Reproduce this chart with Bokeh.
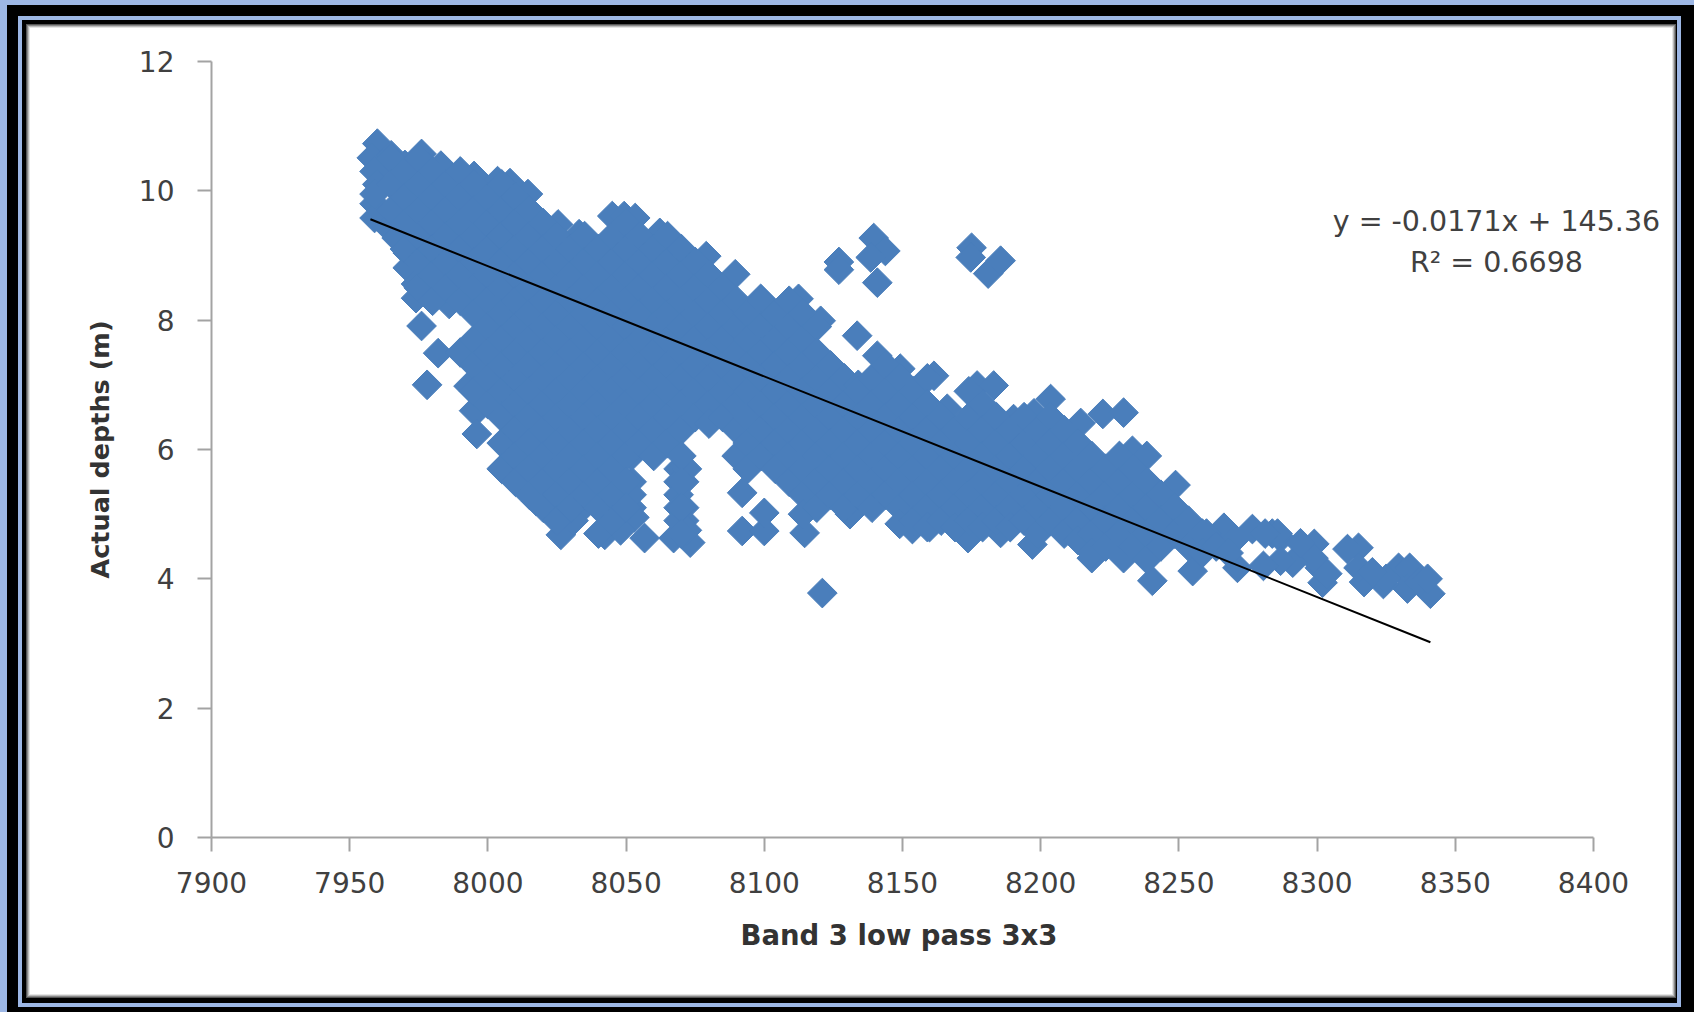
from bokeh.plotting import figure
from bokeh.embed import file_html
from bokeh.resources import INLINE
from bokeh.models import Range1d, FixedTicker, Label, Title

# Values
x_ticks = [7900, 7950, 8000, 8050, 8100, 8150, 8200, 8250, 8300, 8350, 8400]
y_ticks = [0, 2, 4, 6, 8, 10, 12]
x_title = "Band 3 low pass 3x3"
y_title = "Actual depths (m)"
equation = "y = -0.0171x + 145.36"
r_squared = "R² = 0.6698"

trend_x = [7957.5, 8341]
trend_y = [9.56, 3.02]

# Points along the outline of the cloud and the separate points
edge_x = [7960, 7958, 7959, 7959, 7964, 7967, 7971, 7971, 7974, 7974, 7976, 7982, 7978, 7993,
          7995, 7996, 7996, 8005.5, 8017.5, 8026.4, 8042.3, 8056.7, 8067.2, 8073.2, 8092, 8100, 8114.6, 8121, 8092, 8100,
          8131, 7976, 7983, 7995, 8003.5, 8008, 8014.5, 8025.4, 8033, 8045, 8049.3, 8053.3, 8062.2, 8079, 8089.5,
          8112.4, 8098.7, 8120.4, 8133.6, 8140.9, 8149.2, 8161.4, 8166.2, 8177, 8183, 8190.2, 8197.6, 8203.6,
          8214.5, 8222.5, 8230, 8233.2, 8238.4, 8248.8, 8266.3, 8276.6, 8283.8, 8286.8, 8153.6, 8159.8, 8173.7, 8185.5,
          8197, 8218.5, 8230, 8240.4, 8255, 8271.2, 8341, 8329.5, 8333.5, 8332.7, 8324, 8317, 8315, 8311,
          8315, 8302, 8299, 8301, 8303.7, 8298.7, 8285.7, 8281.2, 8291.2, 8286.8, 8280.6, 8127, 8127, 8139.6,
          8143.8, 8140.9, 8138.5, 8175, 8174.7, 8181, 8185.5, 8337, 8340, 8325, 8320, 8294, 8270, 8260, 8052,
          8052, 8052, 8071, 8071, 8071, 8049.5, 8089, 8032, 8037, 8022,
          7965, 7970, 7959, 7960, 7959, 7986, 8069, 8069, 8069, 8069, 8069, 8072, 8072, 8053, 8052, 8031, 8048]
edge_y = [10.73, 10.51, 9.8, 9.58, 9.43, 9.27, 9.04, 8.81, 8.56, 8.34, 7.91, 7.49, 7.0, 6.98,
          6.6, 6.6, 6.24, 5.72, 5.2, 4.68, 4.68, 4.63, 4.63, 4.56, 4.74, 4.74, 4.71, 3.78, 5.33, 5.02,
          5.0, 10.57, 10.39, 10.23, 10.15, 10.12, 9.95, 9.48, 9.33, 9.61, 9.61, 9.58, 9.35, 8.99, 8.71,
          8.33, 8.33, 7.99, 7.76, 7.45, 7.25, 7.14, 6.63, 6.99, 6.99, 6.47, 6.56, 6.78,
          6.41, 6.55, 6.57, 5.98, 5.9, 5.45, 4.79, 4.77, 4.7, 4.63, 4.77, 4.8, 4.63, 4.71,
          4.53, 4.32, 4.32, 3.97, 4.12, 4.17, 3.77, 4.17, 4.17, 3.85, 3.92, 3.95, 4.48, 4.46,
          4.17, 3.94, 4.54, 4.17, 4.08, 4.32, 4.7, 4.7, 4.25, 4.28, 4.2, 8.9, 8.78, 9.27,
          9.07, 8.58, 8.97, 9.12, 8.97, 8.72, 8.92, 3.95, 4.0, 4.0, 4.1, 4.55, 4.6, 4.7, 5.5,
          5.9, 5.1, 5.5, 5.1, 4.9, 9.2, 8.3, 5.0, 5.3, 5.3,
          10.55, 10.4, 10.3, 10.1, 9.95, 8.25, 5.7, 5.5, 5.3, 5.1, 4.9, 5.7, 4.75, 4.95, 5.3, 4.9, 4.75]

# Points that fill the inside of the cloud, by column
fill_x = [7965, 7970, 7975, 7980, 7985, 7990, 7995, 8000, 8005, 8010, 8015, 8020, 8025, 8030, 8035, 8040,
          8045, 8050, 8055, 8060, 8065, 8070, 8075, 8080, 8085, 8090, 8094, 8099, 8104, 8109, 8114, 8119,
          8124, 8129, 8134, 8139, 8144, 8149, 8154, 8159, 8164, 8169, 8174, 8179, 8184, 8189, 8194, 8199,
          8203.5, 8208.5, 8213.5, 8218.5, 8223.5, 8228.5, 8233.5, 8238.5, 8243.5, 8248.5, 8253.5, 8258.5, 8263.5, 8268]
fill_y = [
    [10.5, 10.1, 9.7],
    [10.3, 9.9, 9.5, 9.1],
    [10.5, 10.1, 9.7, 9.3, 8.9, 8.5],
    [10.3, 9.9, 9.5, 9.1, 8.7, 8.3],
    [10.1, 9.7, 9.3, 8.9, 8.5],
    [10.3, 9.9, 9.5, 9.1, 8.7, 8.3, 7.5],
    [10.1, 9.7, 9.3, 8.9, 8.5, 8.1, 7.7, 7.3, 6.9],
    [9.9, 9.5, 9.1, 8.7, 8.3, 7.9, 7.5, 7.1, 6.7],
    [10.1, 9.7, 9.3, 8.9, 8.5, 8.1, 7.7, 7.3, 6.9, 6.5, 6.1, 5.7],
    [9.9, 9.5, 9.1, 8.7, 8.3, 7.9, 7.5, 7.1, 6.7, 6.3, 5.9, 5.5],
    [9.7, 9.3, 8.9, 8.5, 8.1, 7.7, 7.3, 6.9, 6.5, 6.1, 5.7, 5.3],
    [9.5, 9.1, 8.7, 8.3, 7.9, 7.5, 7.1, 6.7, 6.3, 5.9, 5.5, 5.1],
    [9.3, 8.9, 8.5, 8.1, 7.7, 7.3, 6.9, 6.5, 6.1, 5.7, 5.3, 4.9],
    [9.1, 8.7, 8.3, 7.9, 7.5, 7.1, 6.7, 6.3, 5.9, 5.5, 5.1],
    [9.3, 8.9, 8.5, 8.1, 7.7, 7.3, 6.9, 6.5, 6.1, 5.7, 5.3],
    [9.1, 8.7, 8.3, 7.9, 7.5, 7.1, 6.7, 6.3, 5.9, 5.5, 5.1, 4.7],
    [9.3, 8.9, 8.5, 8.1, 7.7, 7.3, 6.9, 6.5, 6.1, 5.7, 5.3, 4.9],
    [9.5, 9.1, 8.7, 8.3, 7.9, 7.5, 7.1, 6.7, 6.3, 5.9, 5.5, 5.1],
    [9.3, 8.9, 8.5, 8.1, 7.7, 7.3, 6.9, 6.5, 6.1],
    [9.1, 8.7, 8.3, 7.9, 7.5, 7.1, 6.7, 6.3, 5.9],
    [9.3, 8.9, 8.5, 8.1, 7.7, 7.3, 6.9, 6.5, 6.1],
    [9.1, 8.7, 8.3, 7.9, 7.5, 7.1, 6.7, 6.3, 5.9, 5.5, 5.1, 4.7],
    [8.9, 8.5, 8.1, 7.7, 7.3, 6.9, 6.5],
    [8.7, 8.3, 7.9, 7.5, 7.1, 6.7, 6.4],
    [8.5, 8.1, 7.7, 7.3, 6.9, 6.5],
    [8.3, 7.9, 7.5, 7.1, 6.7, 6.3, 5.9],
    [8.1, 7.7, 7.3, 6.9, 6.5, 6.1, 5.7],
    [8.3, 7.9, 7.5, 7.1, 6.7, 6.3, 5.9],
    [8.1, 7.7, 7.3, 6.9, 6.5, 6.1, 5.7],
    [8.3, 7.9, 7.5, 7.1, 6.7, 6.3, 5.9, 5.5],
    [8.1, 7.7, 7.3, 6.9, 6.5, 6.1, 5.7, 5.3, 5.0],
    [7.9, 7.5, 7.1, 6.7, 6.3, 5.9, 5.5, 5.1],
    [7.3, 6.9, 6.5, 6.1, 5.7, 5.3],
    [7.1, 6.7, 6.3, 5.9, 5.5, 5.1],
    [7.0, 6.9, 6.5, 6.1, 5.7, 5.3],
    [7.1, 6.7, 6.3, 5.9, 5.5, 5.1],
    [7.3, 6.9, 6.5, 6.1, 5.7, 5.3],
    [7.1, 6.7, 6.3, 5.9, 5.5, 5.1, 4.85],
    [6.9, 6.5, 6.1, 5.7, 5.3, 4.9],
    [7.1, 6.7, 6.3, 5.9, 5.5, 5.1, 4.8],
    [6.5, 6.1, 5.7, 5.3, 4.9],
    [6.3, 5.9, 5.5, 5.1, 4.8],
    [6.9, 6.5, 6.1, 5.7, 5.3, 4.9],
    [6.7, 6.3, 5.9, 5.5, 5.1, 4.8],
    [6.5, 6.1, 5.7, 5.3, 4.9],
    [6.3, 5.9, 5.5, 5.1, 4.8],
    [6.5, 6.1, 5.7, 5.3, 4.9],
    [6.3, 5.9, 5.5, 5.1, 4.7],
    [6.5, 6.1, 5.7, 5.3, 4.9],
    [6.3, 5.9, 5.5, 5.1, 4.7],
    [6.1, 5.7, 5.3, 4.9, 4.6],
    [5.9, 5.5, 5.1, 4.7, 4.4],
    [5.7, 5.3, 4.9, 4.5],
    [5.9, 5.5, 5.1, 4.7],
    [5.7, 5.3, 4.9, 4.5],
    [5.5, 5.1, 4.7, 4.3],
    [5.3, 4.9, 4.5],
    [5.1, 4.7],
    [4.9, 4.5],
    [4.7, 4.4],
    [4.5],
    [4.4],
]

# A table for the scatter glyph
point_x = list(edge_x)
point_y = list(edge_y)
for column_x, column_y in zip(fill_x, fill_y):
    point_x += [column_x] * len(column_y)
    point_y += column_y

# Picture frame round the chart, as nested page-background rectangles (left, top, right, bottom, colour)
frame_boxes = [
    (30, 28, 1672, 994, "#ffffff"), (29, 27, 1673, 995, "#e5e5e5"), (28, 26, 1674, 996, "#bbbbbb"),
    (27, 25, 1675, 997, "#888888"), (26, 24, 1676, 998, "#555555"), (22, 20, 1677, 1003, "#000000"),
    (18, 16, 1681, 1007, "#9db7e5"), (7, 5, 1694, 1012, "#000000"), (0, 0, 1694, 1012, "#9db7e5"),
]
frame_css = ", ".join(
    f"linear-gradient({c},{c}) {l}px {t}px / {r - l}px {b - t}px no-repeat" for l, t, r, b, c in frame_boxes
)

p = figure(width=1694, height=1012, output_backend="svg", toolbar_location=None,
           x_range=Range1d(7900, 8428.6), y_range=Range1d(0, 12),
           min_border_left=211, min_border_right=22, min_border_top=61, min_border_bottom=175,
           background_fill_color=None, border_fill_color=None, outline_line_color=None)
p.styles = {"position": "absolute", "left": "0", "top": "0", "background": frame_css}
p.grid.visible = False

for axis, ticks in ((p.xaxis[0], x_ticks), (p.yaxis[0], y_ticks)):
    axis.ticker = FixedTicker(ticks=ticks)
    axis.bounds = (ticks[0], ticks[-1])
    axis.axis_line_color = "#a3a3a3"
    axis.axis_line_width = 2
    axis.major_tick_line_color = "#a3a3a3"
    axis.major_tick_line_width = 2
    axis.major_tick_out = 14
    axis.major_tick_in = 0
    axis.minor_tick_line_color = None
    axis.major_label_text_font = "DejaVu Sans"
    axis.major_label_text_font_size = "28px"
    axis.major_label_text_color = "#404040"
    axis.major_label_standoff = 20

p.yaxis[0].axis_label = y_title
p.yaxis[0].axis_label_text_font = "DejaVu Sans"
p.yaxis[0].axis_label_text_font_style = "bold"
p.yaxis[0].axis_label_text_color = "#333333"
p.yaxis[0].axis_label_text_font_size = "25.5px"
p.yaxis[0].major_label_standoff = 23
p.yaxis[0].axis_label_standoff = 21

p.add_layout(Title(text=x_title, align="left", offset=529, standoff=42, text_font="DejaVu Sans",
                   text_font_style="bold", text_font_size="27.5px", text_color="#333333"), "below")

p.scatter(point_x, point_y, marker="square", angle=0.7854, size=21,
          fill_color="#4a7ebb", line_color="#4a7ebb", line_width=1)
p.line(trend_x, trend_y, line_color="black", line_width=2)

p.add_layout(Label(x=8364.9, y=9.52, text=equation, text_align="center", text_baseline="middle",
                   text_font="DejaVu Sans", text_font_size="28.5px", text_color="#404040"))
p.add_layout(Label(x=8364.9, y=8.89, text=r_squared, text_align="center", text_baseline="middle",
                   text_font="DejaVu Sans", text_font_size="28.5px", text_color="#404040"))

open("out.html", "w").write(file_html(p, INLINE))
